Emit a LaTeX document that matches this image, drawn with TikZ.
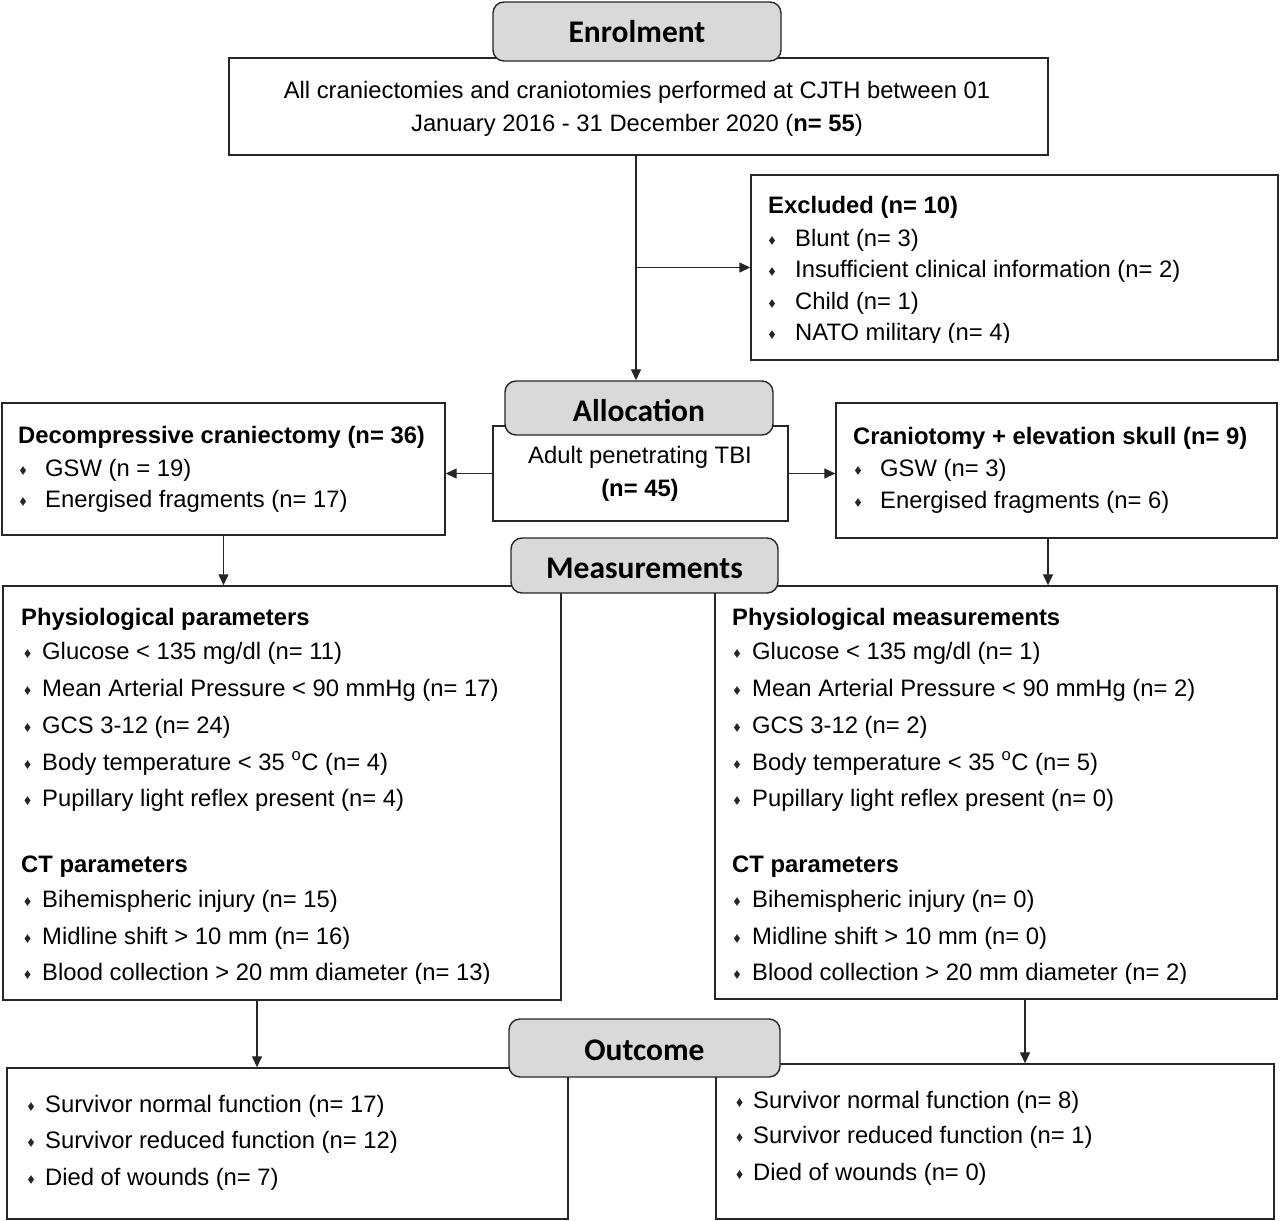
\documentclass[tikz,border=0pt]{standalone}
\usepackage{fontspec}
\setmainfont{Liberation Sans}
\newfontfamily\hdrfont{Carlito}
\usetikzlibrary{arrows.meta,calc}
\definecolor{hgray}{HTML}{D9D9D9}
\definecolor{lcol}{HTML}{262626}
\tikzset{
  box/.style={draw=lcol, line width=1.4pt, fill=white, inner sep=0pt},
  hdr/.style={draw=lcol, line width=1.4pt, fill=hgray, rounded corners=11pt, inner sep=0pt,
    font=\hdrfont\bfseries\fontsize{31.5}{36}\selectfont},
  txt/.style={inner sep=0pt, anchor=base west, font=\fontsize{23.8}{28}\selectfont},
  ctxt/.style={inner sep=0pt, anchor=base, font=\fontsize{23.8}{28}\selectfont},
  arr/.style={draw=lcol, line width=1.3pt, -{Triangle[length=11pt,width=10pt]}},
}
% style, name, x1, y1, x2, y2, text
\newcommand\rbox[7]{\node[#1, minimum width={#5pt-#3pt}, minimum height={#6pt-#4pt}] (#2) at ({(#3+#5)/2},{(#4+#6)/2}) {#7};}
% name, bullet centre x, text x, baseline y, text
\newcommand\bl[5]{%
  \node[txt] (#1) at (#3,#4) {#5};
  \fill[lcol] (#2,#4-5.5) ++(-3,0) -- ++(3,-4.3) -- ++(3,4.3) -- ++(-3,4.3) -- cycle;}
\begin{document}
\begin{tikzpicture}[x=1pt,y=-1pt]
\useasboundingbox (0,0) rectangle (1280,1221);
% ---------- boxes ----------
\rbox{box}{enrB}{229}{58}{1048}{155}{}
\rbox{hdr}{enrH}{493}{2}{781}{61}{Enrolment}
\rbox{box}{excl}{751}{175}{1278}{360}{}
\rbox{box}{allocB}{493}{426}{788}{521}{}
\rbox{hdr,text height=26pt,text depth=0pt}{allocH}{505}{381}{773}{435}{Allocation}
\rbox{box}{decB}{2}{403}{445}{535}{}
\rbox{box}{cranB}{836}{403}{1277}{538}{}
\rbox{box}{measL}{3}{586}{561}{1000}{}
\rbox{box}{measR}{715}{586}{1277}{999}{}
\rbox{hdr,text height=26pt,text depth=0pt}{measH}{511}{538}{778}{593}{Measurements}
\rbox{box}{outL}{7}{1068}{568}{1219}{}
\rbox{box}{outR}{716}{1064}{1274}{1219}{}
\rbox{hdr,text height=24.5pt,text depth=0pt}{outH}{509}{1019}{780}{1077}{Outcome}
% ---------- connectors ----------
\coordinate (xe) at (636,0);
\coordinate (xc) at (1048,0);
\coordinate (xml) at (257,0);
\coordinate (xmr) at (1025,0);
\draw[arr] (enrB.south -| xe) -- (allocH.north -| xe);
\draw[arr] (excl.west -| xe) -- (excl.west);
\draw[arr] (allocB.west) -- (allocB.west -| decB.east);
\draw[arr] (allocB.east) -- (allocB.east -| cranB.west);
\draw[arr] (decB.south) -- (decB.south |- measL.north);
\draw[arr] (cranB.south -| xc) -- (measR.north -| xc);
\draw[arr] (measL.south -| xml) -- (outL.north -| xml);
\draw[arr] (measR.south -| xmr) -- (outR.north -| xmr);
% ---------- enrolment text ----------
\node[ctxt] (e1) at (637,98) {All craniectomies and craniotomies performed at CJTH between 01};
\node[ctxt] (e2) at (637,131) {January 2016 - 31 December 2020 (\textbf{n= 55})};
% ---------- excluded ----------
\begin{scope}
\clip (751,175) rectangle (1278,342);
\node[txt] (x0) at (768,213) {\bfseries Excluded (n= 10)};
\bl{x1}{772}{795}{246}{Blunt (n= 3)}
\bl{x2}{772}{795}{277}{Insufficient clinical information (n= 2)}
\bl{x3}{772}{795}{309}{Child (n= 1)}
\bl{x4}{772}{795}{340}{NATO military (n= 4)}
\end{scope}
% ---------- allocation ----------
\node[ctxt] (a1) at (640,463) {Adult penetrating TBI};
\node[ctxt] (a2) at (640,496) {\bfseries (n= 45)};
% ---------- decompressive ----------
\node[txt] (d0) at (18,443) {\bfseries Decompressive craniectomy (n= 36)};
\bl{d1}{23}{45}{476}{GSW (n = 19)}
\bl{d2}{23}{45}{507}{Energised fragments (n= 17)}
% ---------- craniotomy ----------
\node[txt] (c0) at (853,444) {\bfseries Craniotomy + elevation skull (n= 9)};
\bl{c1}{858}{880}{476}{GSW (n= 3)}
\bl{c2}{858}{880}{508}{Energised fragments (n= 6)}
% ---------- measurements left ----------
\begin{scope}
\clip (3,586) rectangle (561,983);
\node[txt] (ml0) at (21,625) {\bfseries Physiological parameters};
\bl{ml1}{27.5}{42}{659}{Glucose < 135 mg/dl (n= 11)}
\bl{ml2}{27.5}{42}{696}{Mean Arterial Pressure < 90 mmHg (n= 17)}
\bl{ml3}{27.5}{42}{733}{GCS 3-12 (n= 24)}
\bl{ml4}{27.5}{42}{770}{Body temperature < 35 \textsuperscript{o}C (n= 4)}
\bl{ml5}{27.5}{42}{806}{Pupillary light reflex present (n= 4)}
\node[txt] (ml6) at (21,872) {\bfseries CT parameters};
\bl{ml7}{27.5}{42}{907}{Bihemispheric injury (n= 15)}
\bl{ml8}{27.5}{42}{944}{Midline shift > 10 mm (n= 16)}
\bl{ml9}{27.5}{42}{980}{Blood collection > 20 mm diameter (n= 13)}
\end{scope}
% ---------- measurements right ----------
\begin{scope}
\clip (715,586) rectangle (1277,983);
\node[txt] (mr0) at (732,625) {\bfseries Physiological measurements};
\bl{mr1}{737}{752}{659}{Glucose < 135 mg/dl (n= 1)}
\bl{mr2}{737}{752}{696}{Mean Arterial Pressure < 90 mmHg (n= 2)}
\bl{mr3}{737}{752}{733}{GCS 3-12 (n= 2)}
\bl{mr4}{737}{752}{770}{Body temperature < 35 \textsuperscript{o}C (n= 5)}
\bl{mr5}{737}{752}{806}{Pupillary light reflex present (n= 0)}
\node[txt] (mr6) at (732,872) {\bfseries CT parameters};
\bl{mr7}{737}{752}{907}{Bihemispheric injury (n= 0)}
\bl{mr8}{737}{752}{944}{Midline shift > 10 mm (n= 0)}
\bl{mr9}{737}{752}{980}{Blood collection > 20 mm diameter (n= 2)}
\end{scope}
% ---------- outcome ----------
\bl{ol1}{31}{45}{1112}{Survivor normal function (n= 17)}
\bl{ol2}{31}{45}{1148}{Survivor reduced function (n= 12)}
\bl{ol3}{31}{45}{1185}{Died of wounds (n= 7)}
\bl{or1}{739.5}{753}{1108}{Survivor normal function (n= 8)}
\bl{or2}{739.5}{753}{1143}{Survivor reduced function (n= 1)}
\bl{or3}{739.5}{753}{1180}{Died of wounds (n= 0)}
\end{tikzpicture}
\end{document}
